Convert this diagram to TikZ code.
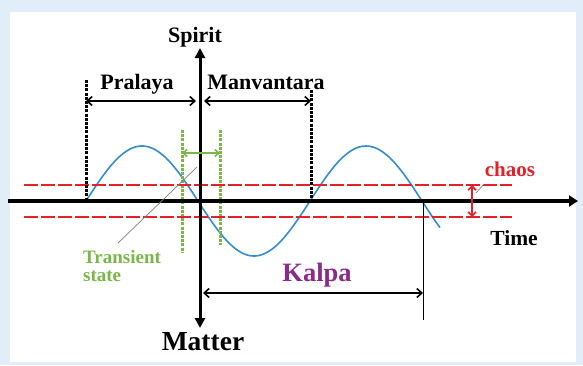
\documentclass[tikz,border=0pt]{standalone}
\usepackage{fontspec}
\setmainfont{Liberation Serif}
\usetikzlibrary{arrows.meta}
\definecolor{bgblue}{RGB}{226,237,250}
\definecolor{chaosred}{RGB}{228,32,40}
\definecolor{waveblue}{RGB}{52,142,206}
\definecolor{tgreen}{RGB}{122,182,72}
\definecolor{kpurple}{RGB}{138,42,140}
\begin{document}
\begin{tikzpicture}[x=1pt,y=-1pt,
  lbl/.style={inner sep=0pt, anchor=base, font=\fontsize{22}{22}\selectfont\bfseries},
  axisline/.style={line width=3pt, black},
  reddash/.style={chaosred, line width=2.5pt, dash pattern=on 14pt off 3pt},
  blackdash/.style={black, line width=3pt, dash pattern=on 3pt off 1.2pt},
  greendash/.style={tgreen, line width=3pt, dash pattern=on 3pt off 1.2pt},
  dimarrow/.style={line width=1.6pt, {Straight Barb[length=5pt,width=9pt]}-{Straight Barb[length=5pt,width=9pt]}},
  pointer/.style={gray, line width=0.7pt}]
\useasboundingbox (0,0) rectangle (583,365);
\fill[bgblue] (0,0) rectangle (583,365);
\fill[white] (10,12) rectangle (576,362);
% wave
\draw[waveblue, line width=1.6pt, domain=86:440, samples=150, smooth]
  plot (\x, {201 - 55*sin((\x-86)/112*180)});
% transient state markers
\coordinate (g1t) at (182,130); \coordinate (g1b) at (182,253);
\coordinate (g2t) at (220,130); \coordinate (g2b) at (220,245);
\draw[greendash] (g1t) -- (g1b);
\draw[greendash] (g2t) -- (g2b);
% red chaos band
\coordinate (ru1) at (24,185); \coordinate (ru2) at (512,185);
\coordinate (rl1) at (24,217); \coordinate (rl2) at (512,217);
\draw[reddash] (ru1) -- (ru2);
\draw[reddash] (rl1) -- (rl2);
% axes
\coordinate (xl) at (8,201); \coordinate (xr) at (578,201);
\coordinate (yt) at (200,48); \coordinate (yb) at (200,328);
\draw[line width=4pt, -{Triangle[length=9pt,width=11pt]}] (xl) -- (xr);
\draw[axisline, {Triangle[length=10pt,width=10pt]}-{Triangle[length=10pt,width=10pt]}] (yb) -- (yt);
% labels
\node[lbl] (spirit) at (195,42) {Spirit};
\node[lbl, font=\fontsize{27.5}{27.5}\selectfont\bfseries] (matter) at (203,350) {Matter};
\node[lbl, font=\fontsize{21.5}{21.5}\selectfont\bfseries] (time) at (514,245) {Time};
\node[lbl] (pralaya) at (137,89) {Pralaya};
\node[lbl] (manv) at (266,89) {Manvantara};
\node[lbl, font=\fontsize{21}{21}\selectfont\bfseries, chaosred] (chaos) at (510,176) {chaos};
\node[lbl, font=\fontsize{26.5}{26.5}\selectfont\bfseries, kpurple] (kalpa) at (317,281) {Kalpa};
\node[inner sep=0pt, anchor=base west, tgreen,
  font=\fontsize{19}{19}\selectfont\bfseries] (trans1) at (83,263) {Transient};
\node[inner sep=0pt, anchor=base west, tgreen,
  font=\fontsize{19}{19}\selectfont\bfseries] (trans2) at (83,281) {state};
% Pralaya / Manvantara markers
\coordinate (pt) at (86,80); \coordinate (pb) at (86,201);
\coordinate (mt) at (311,90); \coordinate (mb) at (311,201);
\draw[blackdash] (pt) -- (pb);
\draw[blackdash] (mt) -- (mb);
\coordinate (pal) at (86,101); \coordinate (par) at (196,101);
\coordinate (mal) at (204,101); \coordinate (mar) at (311,101);
\draw[dimarrow] (pal) -- (par);
\draw[dimarrow] (mal) -- (mar);
% transient state arrow and pointer
\coordinate (gal) at (182,153); \coordinate (gar) at (220,153);
\draw[tgreen, line width=1.6pt, {Straight Barb[length=4pt,width=7pt]}-{Straight Barb[length=4pt,width=7pt]}] (gal) -- (gar);
\coordinate (tp1) at (118,243); \coordinate (tp2) at (197,167);
\draw[pointer] (tp1) -- (tp2);
% chaos arrow
\coordinate (ca) at (472,185); \coordinate (cb) at (472,217);
\draw[chaosred, line width=1.6pt, {Straight Barb[length=4pt,width=8pt]}-{Straight Barb[length=4pt,width=8pt]}] (ca) -- (cb);
\coordinate (cp1) at (476,193); \coordinate (cp2) at (484,184);
\draw[pointer] (cp1) -- (cp2);
% Kalpa
\coordinate (kl) at (203,293); \coordinate (kr) at (423,293);
\draw[dimarrow] (kl) -- (kr);
\coordinate (kt) at (423,201); \coordinate (kb) at (423,320);
\draw[black, line width=1pt] (kt) -- (kb);
\end{tikzpicture}
\end{document}
